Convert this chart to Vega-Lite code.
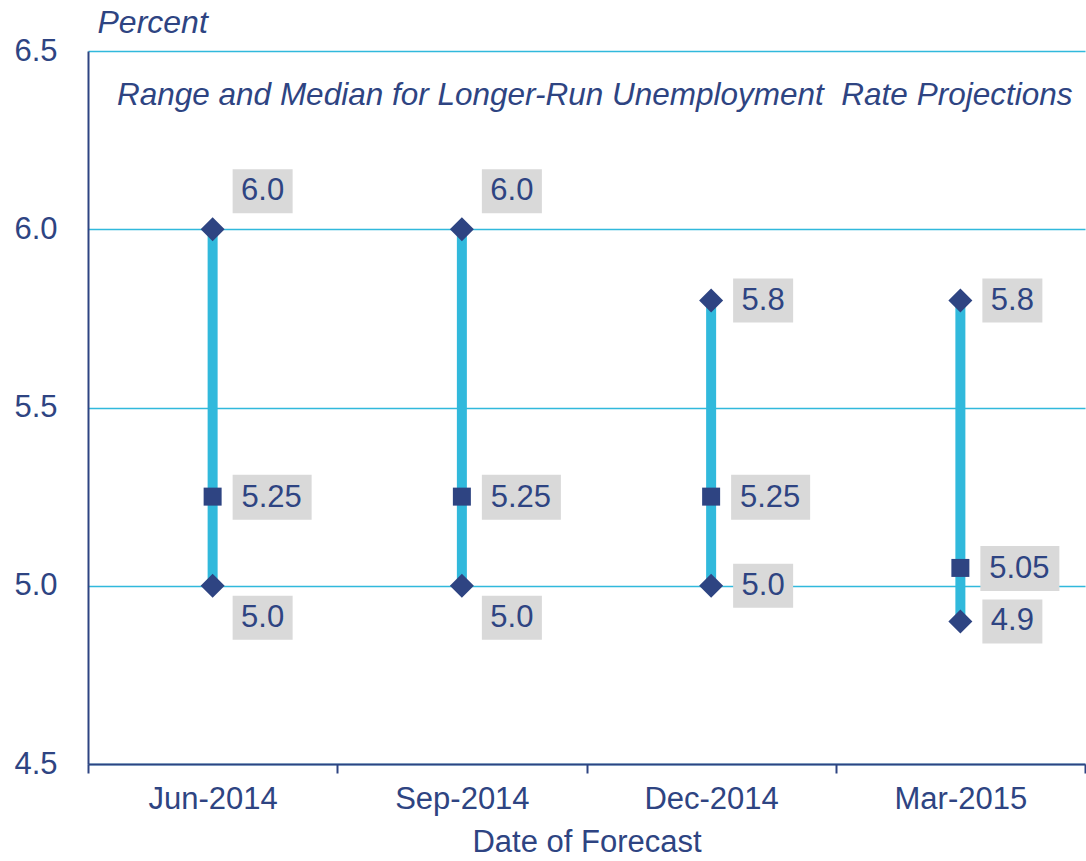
{
  "$schema": "https://vega.github.io/schema/vega-lite/v6.json",
  "autosize": "none",
  "width": 997,
  "height": 713,
  "padding": {"left": 88, "top": 51, "right": 1, "bottom": 97},
  "background": "white",
  "config": {
    "font": "Liberation Sans",
    "view": {"stroke": null},
    "title": {"font": "Liberation Sans", "fontStyle": "italic", "fontWeight": "normal", "fontSize": 31.5, "color": "#2E4482"}
  },
  "title": {
    "text": "Range and Median for Longer-Run Unemployment \u00a0Rate Projections",
    "anchor": "start",
    "frame": "group",
    "orient": "top",
    "offset": 0,
    "baseline": "alphabetic",
    "dx": 29,
    "dy": 130
  },
  "data": {
    "values": [
      {"date": "Jun-2014", "low": 5.0, "median": 5.25, "high": 6.0},
      {"date": "Sep-2014", "low": 5.0, "median": 5.25, "high": 6.0},
      {"date": "Dec-2014", "low": 5.0, "median": 5.25, "high": 5.8},
      {"date": "Mar-2015", "low": 4.9, "median": 5.05, "high": 5.8}
    ]
  },
  "encoding": {
    "x": {
      "field": "date",
      "type": "nominal",
      "sort": null,
      "scale": {"paddingInner": 0, "paddingOuter": 0},
      "axis": {
        "title": "Date of Forecast",
        "titleFont": "Liberation Sans",
        "titleFontSize": 31,
        "titleFontWeight": "normal",
        "titleColor": "#2E4482",
        "titlePadding": 13,
        "labelFont": "Liberation Sans",
        "labelFontSize": 31,
        "labelColor": "#2E4482",
        "labelAngle": 0,
        "labelPadding": 11,
        "tickBand": "extent",
        "tickSize": 9,
        "tickWidth": 2,
        "tickColor": "#2E4482",
        "domainColor": "#2E4482",
        "domainWidth": 2,
        "grid": false
      }
    }
  },
  "layer": [
    {
      "mark": {"type": "rule", "strokeWidth": 10, "color": "#31B9DC"},
      "encoding": {
        "y": {
          "field": "low",
          "type": "quantitative",
          "scale": {"domain": [4.5, 6.5], "nice": false, "zero": false},
          "axis": {
            "values": [4.5, 5.0, 5.5, 6.0, 6.5],
            "format": ".1f",
            "title": "Percent",
            "titleAngle": 0,
            "titleAlign": "left",
            "titleBaseline": "alphabetic",
            "titleX": 9,
            "titleY": -19,
            "titleFont": "Liberation Sans",
            "titleFontStyle": "italic",
            "titleFontWeight": "normal",
            "titleFontSize": 32,
            "titleColor": "#2E4482",
            "labelFont": "Liberation Sans",
            "labelFontSize": 31,
            "labelColor": "#2E4482",
            "labelPadding": 31,
            "ticks": false,
            "tickSize": 0,
            "domainColor": "#2E4482",
            "domainWidth": 2,
            "grid": true,
            "gridColor": "#31B9DC",
            "gridWidth": 1.5,
            "gridOpacity": 1
          }
        },
        "y2": {"field": "high"}
      }
    },
    {
      "mark": {"type": "point", "shape": "diamond", "filled": true, "size": 576, "color": "#2E4482", "opacity": 1},
      "encoding": {"y": {"field": "high", "type": "quantitative"}}
    },
    {
      "mark": {"type": "point", "shape": "diamond", "filled": true, "size": 576, "color": "#2E4482", "opacity": 1},
      "encoding": {"y": {"field": "low", "type": "quantitative"}}
    },
    {
      "mark": {"type": "point", "shape": "square", "filled": true, "size": 324, "color": "#2E4482", "opacity": 1},
      "encoding": {"y": {"field": "median", "type": "quantitative"}}
    },
    {
      "transform": [{"filter": "datum.date == 'Jun-2014' || datum.date == 'Sep-2014'"}],
      "mark": {"type": "point", "shape": "M2,-6H8V-1.6H2Z", "size": 400, "filled": true, "color": "#D9D9D9", "opacity": 1},
      "encoding": {"y": {"field": "high", "type": "quantitative"}}
    },
    {
      "transform": [{"filter": "datum.date == 'Jun-2014' || datum.date == 'Sep-2014'"}],
      "mark": {"type": "point", "shape": "M2,1H8V5.4H2Z", "size": 400, "filled": true, "color": "#D9D9D9", "opacity": 1},
      "encoding": {"y": {"field": "low", "type": "quantitative"}}
    },
    {
      "transform": [{"filter": "datum.date == 'Dec-2014' || datum.date == 'Mar-2015'"}],
      "mark": {"type": "point", "shape": "M2.2,-2.2H8.2V2.2H2.2Z", "size": 400, "filled": true, "color": "#D9D9D9", "opacity": 1},
      "encoding": {"y": {"field": "high", "type": "quantitative"}}
    },
    {
      "transform": [{"filter": "datum.date == 'Dec-2014' || datum.date == 'Mar-2015'"}],
      "mark": {"type": "point", "shape": "M2.2,-2.2H8.2V2.2H2.2Z", "size": 400, "filled": true, "color": "#D9D9D9", "opacity": 1},
      "encoding": {"y": {"field": "low", "type": "quantitative"}}
    },
    {
      "mark": {"type": "point", "shape": "M2,-2.2H9.9V2.3H2Z", "size": 400, "filled": true, "color": "#D9D9D9", "opacity": 1},
      "encoding": {"y": {"field": "median", "type": "quantitative"}}
    },
    {
      "transform": [{"filter": "datum.date == 'Jun-2014' || datum.date == 'Sep-2014'"}],
      "mark": {"type": "text", "fontSize": 31, "color": "#2E4482", "align": "center", "baseline": "middle", "dx": 50, "dy": -38},
      "encoding": {"y": {"field": "high", "type": "quantitative"}, "text": {"field": "high", "type": "quantitative", "format": ".1f"}}
    },
    {
      "transform": [{"filter": "datum.date == 'Jun-2014' || datum.date == 'Sep-2014'"}],
      "mark": {"type": "text", "fontSize": 31, "color": "#2E4482", "align": "center", "baseline": "middle", "dx": 50, "dy": 32},
      "encoding": {"y": {"field": "low", "type": "quantitative"}, "text": {"field": "low", "type": "quantitative", "format": ".1f"}}
    },
    {
      "transform": [{"filter": "datum.date == 'Dec-2014' || datum.date == 'Mar-2015'"}],
      "mark": {"type": "text", "fontSize": 31, "color": "#2E4482", "align": "center", "baseline": "middle", "dx": 52, "dy": 0},
      "encoding": {"y": {"field": "high", "type": "quantitative"}, "text": {"field": "high", "type": "quantitative", "format": ".1f"}}
    },
    {
      "transform": [{"filter": "datum.date == 'Dec-2014' || datum.date == 'Mar-2015'"}],
      "mark": {"type": "text", "fontSize": 31, "color": "#2E4482", "align": "center", "baseline": "middle", "dx": 52, "dy": 0},
      "encoding": {"y": {"field": "low", "type": "quantitative"}, "text": {"field": "low", "type": "quantitative", "format": ".1f"}}
    },
    {
      "mark": {"type": "text", "fontSize": 31, "color": "#2E4482", "align": "center", "baseline": "middle", "dx": 59, "dy": 1},
      "encoding": {"y": {"field": "median", "type": "quantitative"}, "text": {"field": "median", "type": "quantitative", "format": ".2f"}}
    }
  ]
}
